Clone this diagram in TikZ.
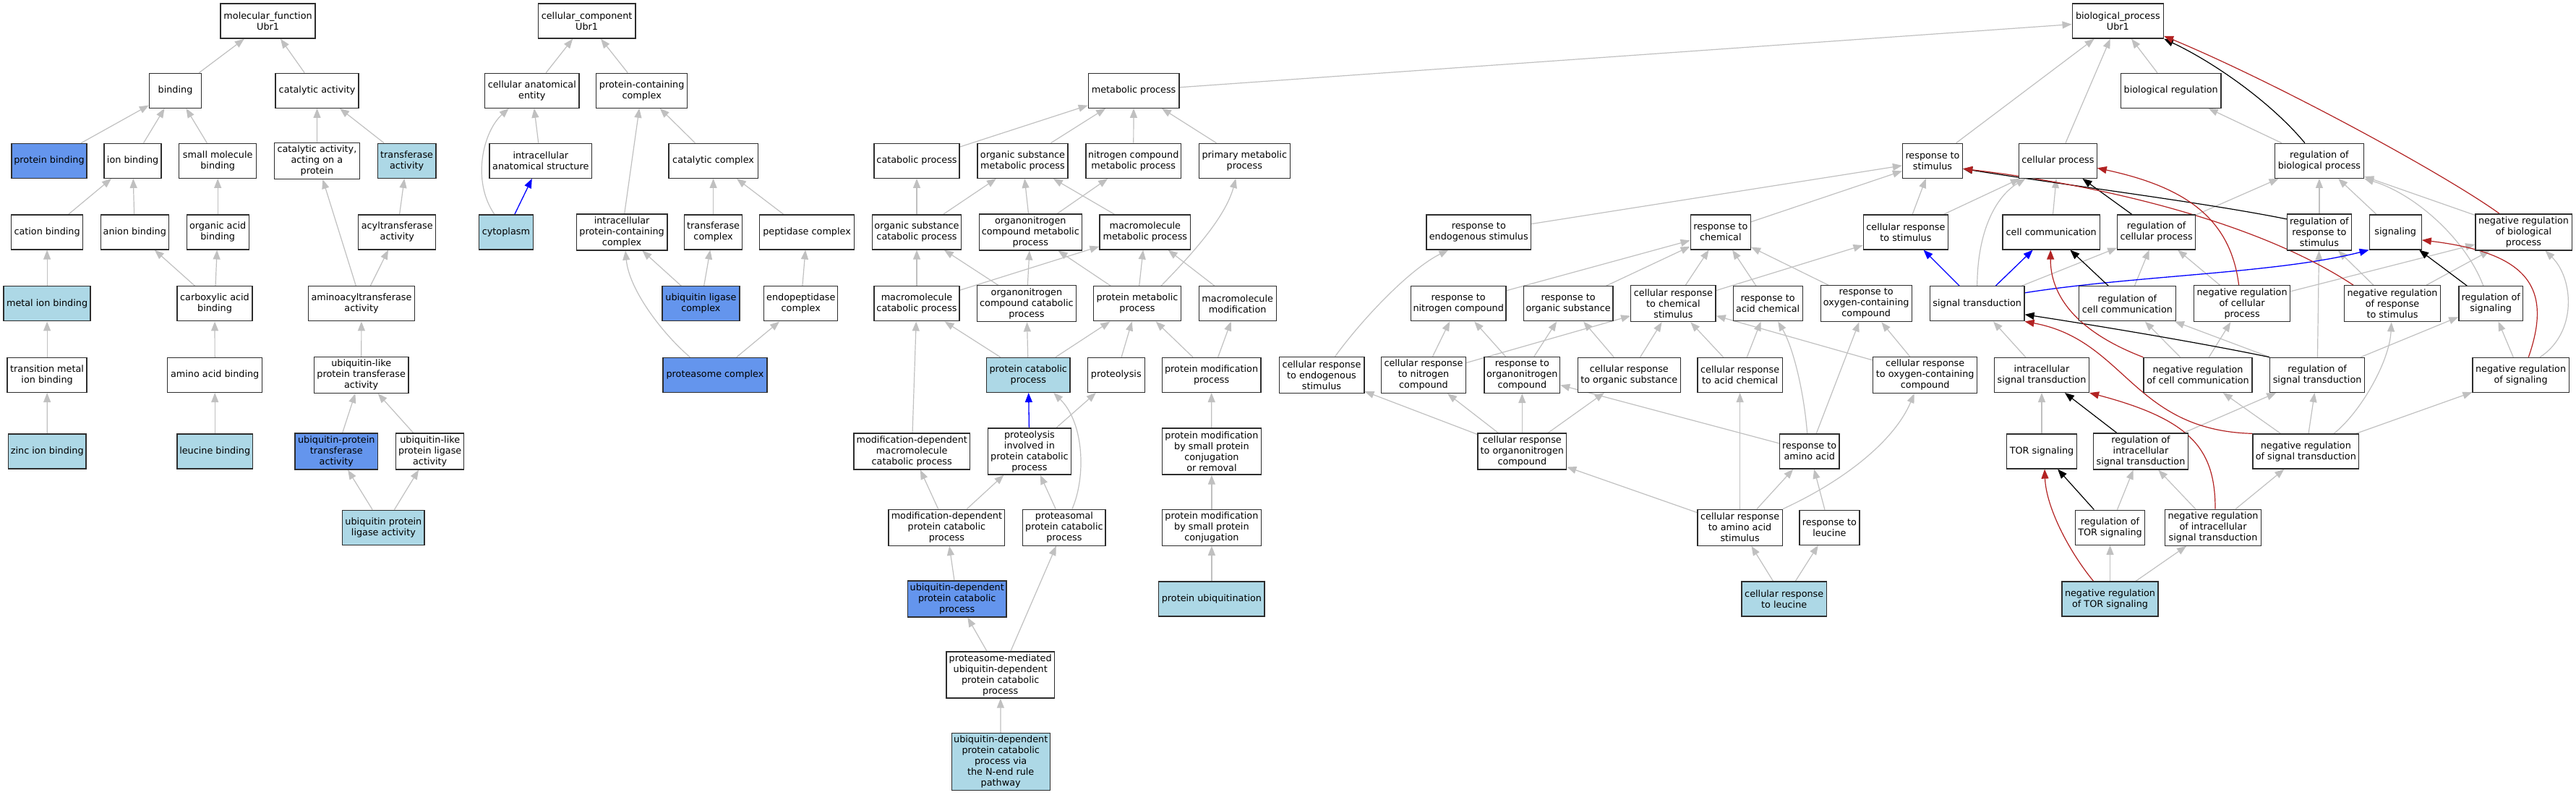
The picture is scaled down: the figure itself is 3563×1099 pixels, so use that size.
\documentclass[tikz,border=0pt]{standalone}
\usepackage{fontspec}
\setmainfont{DejaVu Sans}
\usetikzlibrary{arrows.meta,backgrounds}
\definecolor{lb}{RGB}{173,216,230}
\definecolor{cbl}{RGB}{100,149,237}
\definecolor{eg}{RGB}{192,192,192}
\definecolor{fb}{RGB}{178,34,34}
\definecolor{bd}{RGB}{45,45,45}
\begin{document}
\begin{tikzpicture}[x=1pt,y=-1pt,
  box/.style={draw=bd,line width=1.3pt,fill=white,inner sep=0pt,align=center,
    font=\fontsize{12.8}{15}\selectfont,minimum height=48pt},
  bw/.style={minimum width=#1pt},
  bh/.style={minimum height=#1pt},
  lbf/.style={fill=lb},
  cbf/.style={fill=cbl},
  ge/.style={draw=eg,line width=1.2pt,-{Triangle[length=13pt,width=10pt]}},
  be/.style={draw=blue,line width=1.3pt,-{Triangle[length=13pt,width=10pt]}},
  ke/.style={draw=black,line width=1.2pt,-{Triangle[length=13pt,width=10pt]}},
  re/.style={draw=fb,line width=1.2pt,-{Triangle[length=13pt,width=10pt]}}]
\useasboundingbox (0,0) rectangle (3563,1099);
% ---------------- molecular function
\node[box,bw=131] (mf) at (370.6,29.1) {molecular\_function\\Ubr1};
\node[box,bw=72] (binding) at (242.5,125.2) {binding};
\node[box,bw=115] (catact) at (438.6,125.2) {catalytic activity};
\node[box,bw=104,cbf] (pbind) at (68,222.3) {protein binding};
\node[box,bw=79] (ionb) at (183.6,222.3) {ion binding};
\node[box,bw=107] (smb) at (301.2,222.3) {small molecule\\binding};
\node[box,bw=118,bh=50] (catprot) at (438.4,222.3) {catalytic activity,\\acting on a\\protein};
\node[box,bw=80.5,lbf] (transf) at (562.6,222.3) {transferase\\activity};
\node[box,bw=98.6] (cation) at (65.1,320.9) {cation binding};
\node[box,bw=94] (anion) at (186.3,320.9) {anion binding};
\node[box,bw=86] (oab) at (301.2,320.9) {organic acid\\binding};
\node[box,bw=107] (acyl) at (549.3,320.9) {acyltransferase\\activity};
\node[box,bw=120,lbf] (metal) at (65.1,419.8) {metal ion binding};
\node[box,bw=104] (cab) at (297,419.8) {carboxylic acid\\binding};
\node[box,bw=147.5] (aminoacyl) at (500,419.8) {aminoacyltransferase\\activity};
\node[box,bw=110] (tmib) at (65.1,518.4) {transition metal\\ion binding};
\node[box,bw=131] (aab) at (297.2,518.4) {amino acid binding};
\node[box,bw=130.6,bh=50] (ultrans) at (499.7,518.4) {ubiquitin-like\\protein transferase\\activity};
\node[box,bw=107.4,lbf] (zinc) at (65.3,624) {zinc ion binding};
\node[box,bw=104.5,lbf] (leub) at (297.2,624) {leucine binding};
\node[box,bw=114.8,bh=50,cbf] (uptrans) at (465.3,624) {ubiquitin-protein\\transferase\\activity};
\node[box,bw=94,bh=50] (ulligase) at (594.7,624) {ubiquitin-like\\protein ligase\\activity};
\node[box,bw=113.2,lbf] (upligase) at (530.4,729.2) {ubiquitin protein\\ligase activity};
% ---------------- cellular component
\node[box,bw=134.7] (cc) at (811.6,29.1) {cellular\_component\\Ubr1};
\node[box,bw=130.6] (cae) at (735.8,125.2) {cellular anatomical\\entity};
\node[box,bw=126] (pcc) at (887.7,125.2) {protein-containing\\complex};
\node[box,bw=141.4] (ias) at (747.8,222.3) {intracellular\\anatomical structure};
\node[box,bw=123.1] (catcx) at (986.6,222.3) {catalytic complex};
\node[box,bw=74.6,lbf] (cyto) at (699.9,320.9) {cytoplasm};
\node[box,bw=125.6,bh=50] (ipcc) at (860.1,320.9) {intracellular\\protein-containing\\complex};
\node[box,bw=80] (trcx) at (986.6,320.9) {transferase\\complex};
\node[box,bw=131] (pepcx) at (1116.1,320.9) {peptidase complex};
\node[box,bw=106.9,cbf] (ulcx) at (969.4,419.8) {ubiquitin ligase\\complex};
\node[box,bw=102] (endocx) at (1107.8,419.8) {endopeptidase\\complex};
\node[box,bw=143.9,cbf] (proteasome) at (989,518.4) {proteasome complex};
% ---------------- metabolic part
\node[box,bw=126.3] (bp) at (2929.3,29.1) {biological\_process\\Ubr1};
\node[box,bw=125.6] (metab) at (1568.1,125.2) {metabolic process};
\node[box,bw=118.1] (catab) at (1268,222.3) {catabolic process};
\node[box,bw=125.2] (osmp) at (1414.5,222.3) {organic substance\\metabolic process};
\node[box,bw=131.4] (ncmp) at (1567.7,222.3) {nitrogen compound\\metabolic process};
\node[box,bw=126] (pmp) at (1721.3,222.3) {primary metabolic\\process};
\node[box,bw=123.1] (oscp) at (1268,320.9) {organic substance\\catabolic process};
\node[box,bw=141.8,bh=50] (oncmp) at (1425.3,320.9) {organonitrogen\\compound metabolic\\process};
\node[box,bw=125.6] (mmp) at (1583.8,320.9) {macromolecule\\metabolic process};
\node[box,bw=118] (mcp) at (1268,419.8) {macromolecule\\catabolic process};
\node[box,bw=136.8,bh=50] (onccp) at (1419.9,419.8) {organonitrogen\\compound catabolic\\process};
\node[box,bw=120.7] (protmp) at (1573,419.8) {protein metabolic\\process};
\node[box,bw=107] (mmod) at (1711.7,419.8) {macromolecule\\modification};
\node[box,bw=115.3,lbf] (pcp) at (1422.3,518.4) {protein catabolic\\process};
\node[box,bw=78.8] (proteolysis) at (1543.8,518.4) {proteolysis};
\node[box,bw=136.8] (pmod) at (1675.6,518.4) {protein modification\\process};
\node[box,bw=160.7,bh=50] (mdmcp) at (1261.2,624) {modification-dependent\\macromolecule\\catabolic process};
\node[box,bw=114.8,bh=64] (pipcp) at (1423.9,624) {proteolysis\\involved in\\protein catabolic\\process};
\node[box,bw=136.6,bh=64] (pmsr) at (1675.9,624) {protein modification\\by small protein\\conjugation\\or removal};
\node[box,bw=160.7,bh=50] (mdpcp) at (1309.4,729.2) {modification-dependent\\protein catabolic\\process};
\node[box,bw=114.3,bh=50] (ppcp) at (1471.9,729.2) {proteasomal\\protein catabolic\\process};
\node[box,bw=136.6,bh=50] (pmsc) at (1675.9,729.2) {protein modification\\by small protein\\conjugation};
\node[box,bw=136.6,bh=50,cbf] (udpcp) at (1323.7,828) {ubiquitin-dependent\\protein catabolic\\process};
\node[box,bw=146.4,lbf] (pubiq) at (1675.9,828) {protein ubiquitination};
\node[box,bw=149.6,bh=64] (pmud) at (1383.7,933) {proteasome-mediated\\ubiquitin-dependent\\protein catabolic\\process};
\node[box,bw=136.1,bh=79,lbf] (nend) at (1384.2,1053.3) {ubiquitin-dependent\\protein catabolic\\process via\\the N-end rule\\pathway};
% ---------------- response part
\node[box,bw=117.7,bh=50] (cresendo) at (1828,518.4) {cellular response\\to endogenous\\stimulus};
\node[box,bw=144.7] (respendo) at (2045.3,320.9) {response to\\endogenous stimulus};
\node[box,bw=83.2] (respchem) at (2379.8,320.9) {response to\\chemical};
\node[box,bw=131.4] (respnitro) at (2017.2,419.8) {response to\\nitrogen compound};
\node[box,bw=123.6] (resporg) at (2169.1,419.8) {response to\\organic substance};
\node[box,bw=117.3,bh=50] (creschem) at (2314.4,419.8) {cellular response\\to chemical\\stimulus};
\node[box,bw=96.1] (respacid) at (2445.2,419.8) {response to\\acid chemical};
\node[box,bw=126.1,bh=50] (respoxy) at (2581.2,419.8) {response to\\oxygen-containing\\compound};
\node[box,bw=117.3,bh=50] (cresnitro) at (1969,518.4) {cellular response\\to nitrogen\\compound};
\node[box,bw=104.5,bh=50] (responc) at (2105.3,518.4) {response to\\organonitrogen\\compound};
\node[box,bw=141.8] (cresorg) at (2253.3,518.4) {cellular response\\to organic substance};
\node[box,bw=117.5] (cresacid) at (2406.6,518.4) {cellular response\\to acid chemical};
\node[box,bw=143.9,bh=50] (cresoxy) at (2662.7,518.4) {cellular response\\to oxygen-containing\\compound};
\node[box,bw=122.7,bh=50] (cresonc) at (2105.3,624) {cellular response\\to organonitrogen\\compound};
\node[box,bw=82.5] (respaa) at (2502.7,624) {response to\\amino acid};
\node[box,bw=117.5,bh=50] (cresaa) at (2406.6,729.2) {cellular response\\to amino acid\\stimulus};
\node[box,bw=82.9] (respleu) at (2530.4,729.2) {response to\\leucine};
\node[box,bw=117.5,lbf] (cresleu) at (2467.7,828) {cellular response\\to leucine};
% ---------------- regulation / signalling part
\node[box,bw=83] (respstim) at (2673,222.3) {response to\\stimulus};
\node[box,bw=107.5] (cellproc) at (2846.4,222.3) {cellular process};
\node[box,bw=138.6] (biolreg) at (3002.7,125.2) {biological regulation};
\node[box,bw=123.1] (regbp) at (3207.9,222.3) {regulation of\\biological process};
\node[box,bw=117.5] (cresstim) at (2635.9,320.9) {cellular response\\to stimulus};
\node[box,bw=134.3] (cellcomm) at (2837.2,320.9) {cell communication};
\node[box,bw=107.6] (regcp) at (2982.6,320.9) {regulation of\\cellular process};
\node[box,bw=88.7,bh=50] (regrs) at (3207.9,320.9) {regulation of\\response to\\stimulus};
\node[box,bw=72] (signaling) at (3313.2,320.9) {signaling};
\node[box,bw=133.3,bh=50] (negbp) at (3490.5,320.9) {negative regulation\\of biological\\process};
\node[box,bw=130.5] (sigtrans) at (2734.7,419.8) {signal transduction};
\node[box,bw=134.1] (regcc) at (2942.4,419.8) {regulation of\\cell communication};
\node[box,bw=133.3,bh=50] (negcp) at (3101.1,419.8) {negative regulation\\of cellular\\process};
\node[box,bw=133.3,bh=50] (negrs) at (3309,419.8) {negative regulation\\of response\\to stimulus};
\node[box,bw=88.7] (regsig) at (3445.2,419.8) {regulation of\\signaling};
\node[box,bw=130.9] (intra) at (2824,518.4) {intracellular\\signal transduction};
\node[box,bw=150.1] (negcc) at (3040,518.4) {negative regulation\\of cell communication};
\node[box,bw=131] (regst) at (3205.1,518.4) {regulation of\\signal transduction};
\node[box,bw=133.3] (negsig) at (3486.6,518.4) {negative regulation\\of signaling};
\node[box,bw=96.4] (tor) at (2824,624) {TOR signaling};
\node[box,bw=130.9,bh=50] (regist) at (2961,624) {regulation of\\intracellular\\signal transduction};
\node[box,bw=146.5] (negst) at (3189.3,624) {negative regulation\\of signal transduction};
\node[box,bw=96.4] (regtor) at (2918.5,729.2) {regulation of\\TOR signaling};
\node[box,bw=133.5,bh=50] (negist) at (3061,729.2) {negative regulation\\of intracellular\\signal transduction};
\node[box,bw=133.2,lbf] (negtor) at (2918.5,828) {negative regulation\\of TOR signaling};

\begin{scope}[on background layer]
% MF edges
\draw[ge] (binding) -- (mf);
\draw[ge] (catact) -- (mf);
\draw[ge] (pbind) -- (binding);
\draw[ge] (ionb) -- (binding);
\draw[ge] (smb) -- (binding);
\draw[ge] (catprot) -- (catact);
\draw[ge] (transf) -- (catact);
\draw[ge] (cation) -- (ionb);
\draw[ge] (anion) -- (ionb);
\draw[ge] (oab) -- (smb);
\draw[ge] (acyl) -- (transf);
\draw[ge] (metal) -- (cation);
\draw[ge] (cab) -- (anion);
\draw[ge] (cab) -- (oab);
\draw[ge] (aminoacyl) -- (catprot);
\draw[ge] (aminoacyl) -- (acyl);
\draw[ge] (tmib) -- (metal);
\draw[ge] (aab) -- (cab);
\draw[ge] (ultrans) -- (aminoacyl);
\draw[ge] (zinc) -- (tmib);
\draw[ge] (leub) -- (aab);
\draw[ge] (uptrans) -- (ultrans);
\draw[ge] (ulligase) -- (ultrans);
\draw[ge] (upligase) -- (uptrans);
\draw[ge] (upligase) -- (ulligase);
% CC edges
\draw[ge] (cae) -- (cc);
\draw[ge] (pcc) -- (cc);
\draw[ge] (ias) -- (cae);
\draw[ge] ([xshift=-16pt]cyto.north) .. controls (652,250) and (668,182) .. ([xshift=-32pt]cae.south);
\draw[be] (cyto) -- (ias);
\draw[ge] (ipcc) -- (pcc);
\draw[ge] (catcx) -- (pcc);
\draw[ge] (trcx) -- (catcx);
\draw[ge] (pepcx) -- (catcx);
\draw[ge] (ulcx) -- (ipcc);
\draw[ge] (ulcx) -- (trcx);
\draw[ge] (endocx) -- (pepcx);
\draw[ge] ([xshift=-34.6pt]proteasome.north) .. controls (915,460) and (870,400) .. ([xshift=5pt]ipcc.south);
\draw[ge] (proteasome) -- (endocx);
% metabolic edges
\draw[ge] (metab) -- (bp);
\draw[ge] (catab) -- (metab);
\draw[ge] (osmp) -- (metab);
\draw[ge] (ncmp) -- (metab);
\draw[ge] (pmp) -- (metab);
\draw[ge] (oscp) -- (catab);
\draw[ge] (oscp) -- (osmp);
\draw[ge] (oncmp) -- (osmp);
\draw[ge] (oncmp) -- (ncmp);
\draw[ge] (mmp) -- (osmp);
\draw[ge] (mcp) -- (oscp);
\draw[ge] (mcp) -- (mmp);
\draw[ge] (onccp) -- (oscp);
\draw[ge] (onccp) -- (oncmp);
\draw[ge] (protmp) -- (oncmp);
\draw[ge] (protmp) -- (mmp);
\draw[ge] ([xshift=33pt]protmp.north) .. controls (1650,350) and (1695,300) .. ([xshift=-12pt]pmp.south);
\draw[ge] (mmod) -- (mmp);
\draw[ge] (pcp) -- (mcp);
\draw[ge] (pcp) -- (onccp);
\draw[ge] (pcp) -- (protmp);
\draw[ge] (proteolysis) -- (protmp);
\draw[ge] (pmod) -- (protmp);
\draw[ge] (pmod) -- (mmod);
\draw[ge] (mdmcp) -- (mcp);
\draw[be] (pipcp) -- (pcp);
\draw[ge] (pipcp) -- (proteolysis);
\draw[ge] (pmsr) -- (pmod);
\draw[ge] (mdpcp) -- (mdmcp);
\draw[ge] (mdpcp) -- (pipcp);
\draw[ge] (ppcp) -- (pipcp);
\draw[ge] ([xshift=11pt]ppcp.north) .. controls (1502,660) and (1500,585) .. ([xshift=35pt]pcp.south);
\draw[ge] (pmsc) -- (pmsr);
\draw[ge] (udpcp) -- (mdpcp);
\draw[ge] (pubiq) -- (pmsc);
\draw[ge] (pmud) -- (udpcp);
\draw[ge] (pmud) -- (ppcp);
\draw[ge] (nend) -- (pmud);
% response edges
\draw[ge] (respendo) -- (respstim);
\draw[ge] (respchem) -- (respstim);
\draw[ge] (cresstim) -- (respstim);
\draw[ge] (cresstim) -- (cellproc);
\draw[ge] (respnitro) -- (respchem);
\draw[ge] (resporg) -- (respchem);
\draw[ge] (creschem) -- (respchem);
\draw[ge] (creschem) -- (cresstim);
\draw[ge] (respacid) -- (respchem);
\draw[ge] (respoxy) -- (respchem);
\draw[ge] ([xshift=18.6pt]cresendo.north) .. controls (1885,440) and (1950,372) .. ([xshift=-42pt]respendo.south);
\draw[ge] (cresnitro) -- (respnitro);
\draw[ge] (cresnitro) -- (creschem);
\draw[ge] (responc) -- (respnitro);
\draw[ge] (responc) -- (resporg);
\draw[ge] (cresorg) -- (resporg);
\draw[ge] (cresorg) -- (creschem);
\draw[ge] (cresacid) -- (creschem);
\draw[ge] (cresacid) -- (respacid);
\draw[ge] (cresoxy) -- (respoxy);
\draw[ge] (cresoxy) -- (creschem);
\draw[ge] (cresonc) -- (cresendo);
\draw[ge] (cresonc) -- (cresnitro);
\draw[ge] (cresonc) -- (responc);
\draw[ge] (cresonc) -- (cresorg);
\draw[ge] (respaa) -- (responc);
\draw[ge] ([xshift=-3pt]respaa.north) .. controls (2495,540) and (2480,480) .. ([xshift=14pt]respacid.south);
\draw[ge] (respaa) -- (respoxy);
\draw[ge] (cresaa) -- (cresonc);
\draw[ge] (cresaa) -- (cresacid);
\draw[ge] (cresaa) -- (respaa);
\draw[ge] (cresaa.north east) .. controls (2550,665) and (2620,610) .. ([xshift=-15pt]cresoxy.south);
\draw[ge] (respleu) -- (respaa);
\draw[ge] (cresleu) -- (cresaa);
\draw[ge] (cresleu) -- (respleu);
% regulation / signalling edges
\draw[ge] (respstim) -- (bp);
\draw[ge] (cellproc) -- (bp);
\draw[ge] (biolreg) -- (bp);
\draw[ge] (regbp) -- (biolreg);
\draw[ge] (negbp) -- (regbp);
\draw[ge] (regcp) -- (regbp);
\draw[ge] (regrs) -- (regbp);
\draw[ge] (signaling) -- (regbp);
\draw[ge] (cellcomm) -- (cellproc);
\draw[ge] (sigtrans.north) .. controls (2735,320) and (2760,272) .. ([xshift=-45pt]cellproc.south);
\draw[ge] (sigtrans) -- (regcp);
\draw[ge] (regcc) -- (regcp);
\draw[ge] (negcp) -- (regcp);
\draw[ge] (negcp) -- (negbp);
\draw[ge] (negrs) -- (regrs);
\draw[ge] (negrs) -- (negbp);
\draw[ge] (intra) -- (sigtrans);
\draw[ge] (negcc) -- (regcc);
\draw[ge] (negcc) -- (negcp);
\draw[ge] (regst) -- (regcc);
\draw[ge] (regst) -- (regrs);
\draw[ge] (regst) -- (regsig);
\draw[ge] (negsig) -- (regsig);
\draw[ge] ([xshift=26.5pt]negsig.north) .. controls (3565,460) and (3560,385) .. ([xshift=30pt]negbp.south);
\draw[ge] ([xshift=-10.4pt]regsig.north) .. controls (3410,330) and (3340,268) .. (regbp.south east);
\draw[ge] (tor) -- (intra);
\draw[ge] (regist) -- (regst);
\draw[ge] (negst) -- (regst);
\draw[ge] (negst) -- (negcc);
\draw[ge] (negst) -- (negsig);
\draw[ge] ([xshift=38.7pt]negst.north) .. controls (3265,570) and (3305,500) .. ([xshift=-1.3pt]negrs.south);
\draw[ge] (regtor) -- (regist);
\draw[ge] (negist) -- (regist);
\draw[ge] (negist) -- (negst);
\draw[ge] (negtor) -- (regtor);
\draw[ge] (negtor) -- (negist);
% blue part_of
\draw[be] (sigtrans) -- (cresstim);
\draw[be] (sigtrans) -- (cellcomm);
\draw[be] ([yshift=15pt]sigtrans.east) .. controls (2950,381) and (3150,378) .. (signaling.south west);
% black regulates
\draw[ke] ([xshift=-20pt]regbp.north) .. controls (3140,140) and (3060,85) .. (bp.south east);
\draw[ke] (regcp) -- (cellproc);
\draw[ke] ([yshift=18pt]regrs.west) .. controls (3050,280) and (2850,255) .. ([yshift=-11pt]respstim.east);
\draw[ke] (regcc) -- (cellcomm);
\draw[ke] (regsig) -- (signaling);
\draw[ke] (regst.north west) .. controls (3050,475) and (2900,450) .. ([yshift=-15pt]sigtrans.east);
\draw[ke] (regist) -- (intra);
\draw[ke] (regtor) -- (tor);
% red negatively regulates
\draw[re] ([xshift=-33.5pt]negbp.north) .. controls (3380,240) and (3150,115) .. ([yshift=4pt]bp.south east);
\draw[re] ([xshift=-54pt]negrs.north) .. controls (3120,305) and (2900,255) .. ([yshift=-11pt]respstim.east);
\draw[re] ([xshift=-4.5pt]negcp.north) .. controls (3085,300) and (3020,258) .. ([yshift=-10pt]cellproc.east);
\draw[re] (negcc.north west) .. controls (2850,450) and (2836,390) .. ([xshift=-1pt]cellcomm.south);
\draw[re] (negst.north west) .. controls (2950,595) and (2940,470) .. (sigtrans.south east);
\draw[re] ([xshift=3pt]negist.north) .. controls (3064,620) and (3030,580) .. (intra.south east);
\draw[re] ([xshift=-23pt]negtor.north) .. controls (2860,760) and (2830,700) .. ([xshift=4pt]tor.south);
\draw[re] ([xshift=10.7pt]negsig.north) .. controls (3530,400) and (3500,350) .. ([yshift=-11pt]signaling.east);
\end{scope}
\end{tikzpicture}
\end{document}
